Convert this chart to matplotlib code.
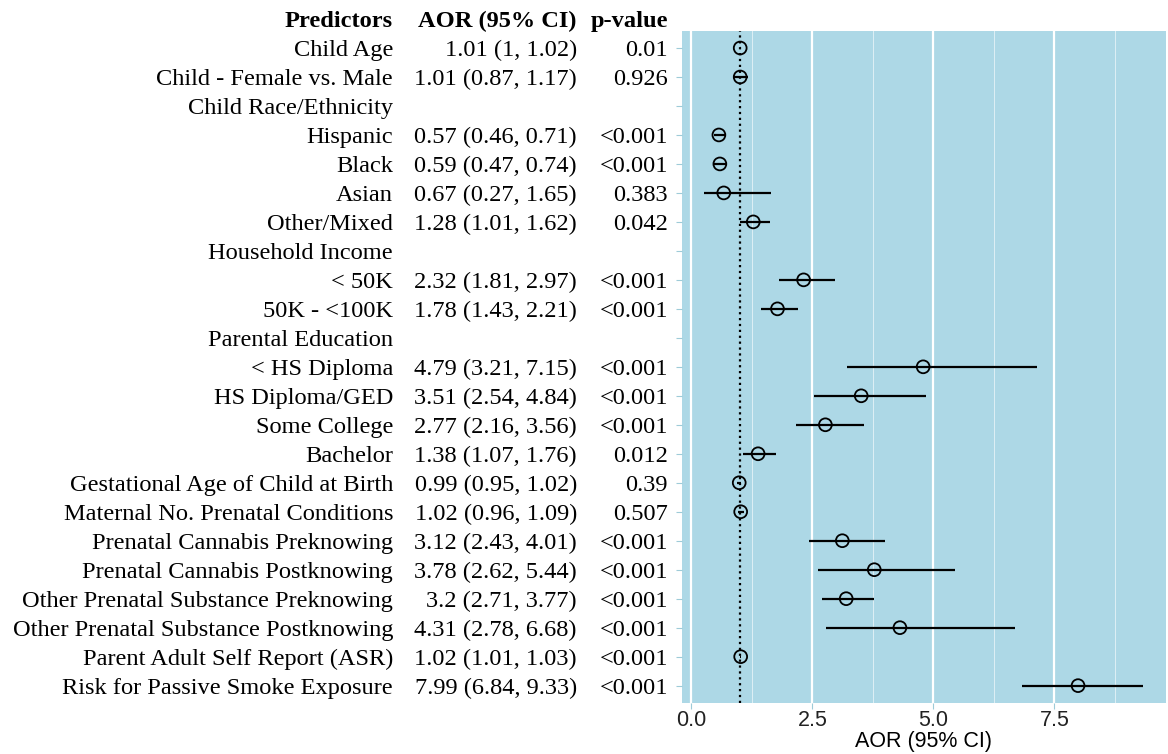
import numpy as np
import matplotlib.pyplot as plt
import matplotlib.transforms as mtransforms

# Forest plot: adjusted odds ratios with 95% CI
predictors = ['Child Age', 'Child - Female vs. Male', 'Child Race/Ethnicity', 'Hispanic', 'Black',
              'Asian', 'Other/Mixed', 'Household Income', '< 50K', '50K - <100K',
              'Parental Education', '< HS Diploma', 'HS Diploma/GED', 'Some College', 'Bachelor',
              'Gestational Age of Child at Birth', 'Maternal No. Prenatal Conditions',
              'Prenatal Cannabis Preknowing', 'Prenatal Cannabis Postknowing',
              'Other Prenatal Substance Preknowing', 'Other Prenatal Substance Postknowing',
              'Parent Adult Self Report (ASR)', 'Risk for Passive Smoke Exposure']
aor = [1.01, 1.01, np.nan, 0.57, 0.59, 0.67, 1.28, np.nan, 2.32, 1.78, np.nan, 4.79, 3.51, 2.77, 1.38,
       0.99, 1.02, 3.12, 3.78, 3.2, 4.31, 1.02, 7.99]
lower = [1, 0.87, np.nan, 0.46, 0.47, 0.27, 1.01, np.nan, 1.81, 1.43, np.nan, 3.21, 2.54, 2.16, 1.07,
         0.95, 0.96, 2.43, 2.62, 2.71, 2.78, 1.01, 6.84]
upper = [1.02, 1.17, np.nan, 0.71, 0.74, 1.65, 1.62, np.nan, 2.97, 2.21, np.nan, 7.15, 4.84, 3.56, 1.76,
         1.02, 1.09, 4.01, 5.44, 3.77, 6.68, 1.03, 9.33]
aor_text = ['1.01 (1, 1.02)', '1.01 (0.87, 1.17)', '', '0.57 (0.46, 0.71)', '0.59 (0.47, 0.74)',
            '0.67 (0.27, 1.65)', '1.28 (1.01, 1.62)', '', '2.32 (1.81, 2.97)', '1.78 (1.43, 2.21)', '',
            '4.79 (3.21, 7.15)', '3.51 (2.54, 4.84)', '2.77 (2.16, 3.56)', '1.38 (1.07, 1.76)',
            '0.99 (0.95, 1.02)', '1.02 (0.96, 1.09)', '3.12 (2.43, 4.01)', '3.78 (2.62, 5.44)',
            '3.2 (2.71, 3.77)', '4.31 (2.78, 6.68)', '1.02 (1.01, 1.03)', '7.99 (6.84, 9.33)']
p_text = ['0.01', '0.926', '', '<0.001', '<0.001', '0.383', '0.042', '', '<0.001', '<0.001', '',
          '<0.001', '<0.001', '<0.001', '0.012', '0.39', '0.507', '<0.001', '<0.001', '<0.001',
          '<0.001', '<0.001', '<0.001']

fig = plt.figure(figsize=(11.68, 7.54), dpi=100)
ax = fig.add_axes([0.584, 0.0676, 0.414, 0.8918])
ax.set_facecolor('#add8e6')
for s in ax.spines.values():
    s.set_visible(False)

y = np.arange(len(predictors))
aor = np.array(aor)
lower = np.array(lower)
upper = np.array(upper)

ax.set_xticks([0, 2.5, 5, 7.5])
ax.set_xticks([1.25, 3.75, 6.25, 8.75], minor=True)
ax.grid(True, which='major', axis='x', color='white', linewidth=1.6)
ax.grid(True, which='minor', axis='x', color='white', linewidth=0.7, alpha=0.6)
ax.set_axisbelow(True)

ax.axvline(1, color='black', linestyle=':', linewidth=1.6, zorder=2)
ax.hlines(y, lower, upper, color='black', linewidth=1.6, zorder=3)
ax.scatter(aor, y, s=85, facecolors='none', edgecolors='black', linewidths=1.3, zorder=4)

ax.set_xlim(-0.19, 9.8)
ax.set_ylim(len(predictors) - 1 + 0.6, -0.6)
ax.set_yticks(y)
ax.set_yticklabels([])
ax.tick_params(axis='y', length=4, color='#9ecbd8')
ax.tick_params(axis='x', which='major', length=4, color='#9ecbd8', labelsize=15.5, pad=1,
               labelcolor='#222222')
ax.tick_params(axis='x', which='minor', length=0)
ax.set_xticklabels(['0.0', '2.5', '5.0', '7.5'], fontfamily='Liberation Sans')
ax.set_xlabel('AOR (95% CI)', fontsize=15.5, fontfamily='Liberation Sans', labelpad=0)

# table columns, x in figure fraction and y in data units
trans = mtransforms.blended_transform_factory(fig.transFigure, ax.transData)
serif = 'Liberation Serif'
fs = 17.6
col_x = [0.3365, 0.494, 0.572]
headers = ['Predictors', 'AOR (95% CI)', 'p-value']
for cx, h in zip(col_x, headers):
    ax.text(cx, -1, h, transform=trans, ha='right', va='center_baseline', fontsize=fs,
            fontweight='bold', fontfamily=serif, clip_on=False)
for i in range(len(predictors)):
    ax.text(col_x[0], y[i], predictors[i], transform=trans, ha='right', va='center_baseline',
            fontsize=fs, fontfamily=serif, clip_on=False)
    ax.text(col_x[1], y[i], aor_text[i], transform=trans, ha='right', va='center_baseline',
            fontsize=fs, fontfamily=serif, clip_on=False)
    ax.text(col_x[2], y[i], p_text[i], transform=trans, ha='right', va='center_baseline',
            fontsize=fs, fontfamily=serif, clip_on=False)

fig.savefig('out.png', dpi=100)
